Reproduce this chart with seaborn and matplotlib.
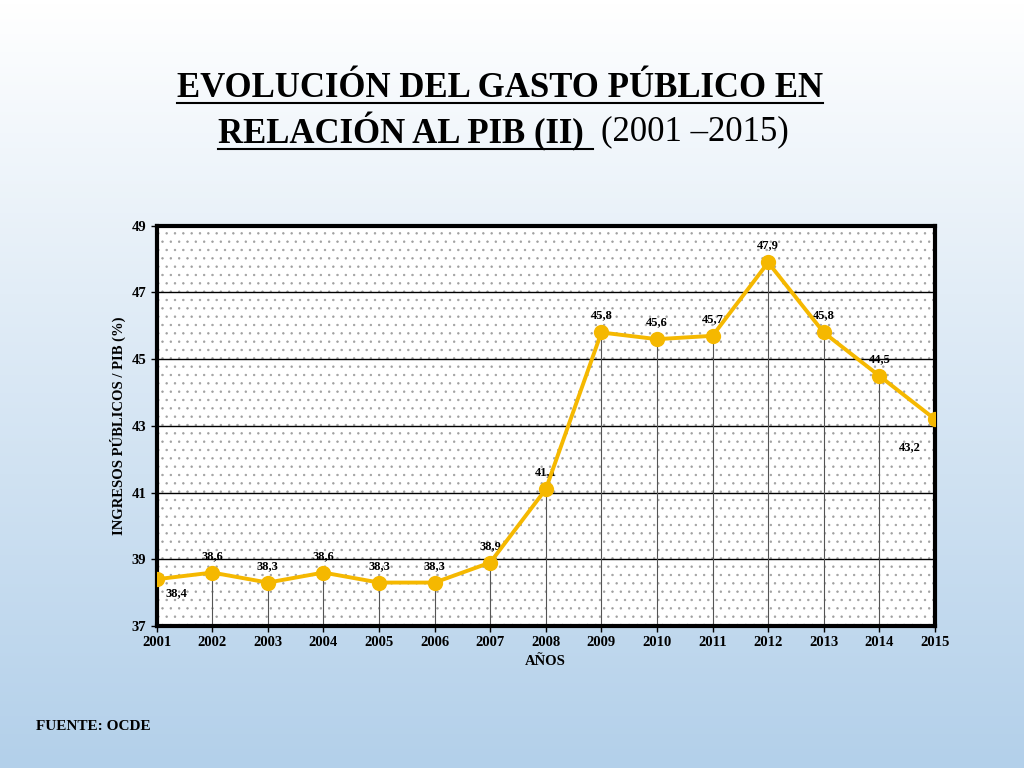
import numpy as np
import pandas as pd
import matplotlib
matplotlib.use("Agg")
import matplotlib.pyplot as plt
import seaborn as sns
from matplotlib.lines import Line2D

years = [2001, 2002, 2003, 2004, 2005, 2006, 2007, 2008, 2009, 2010, 2011, 2012, 2013, 2014, 2015]
gasto = [38.4, 38.6, 38.3, 38.6, 38.3, 38.3, 38.9, 41.1, 45.8, 45.6, 45.7, 47.9, 45.8, 44.5, 43.2]
labels = ["38,4", "38,6", "38,3", "38,6", "38,3", "38,3", "38,9", "41,1", "45,8", "45,6", "45,7", "47,9", "45,8", "44,5", "43,2"]
df = pd.DataFrame({"year": years, "gasto": gasto})

plt.rcParams["font.family"] = "Liberation Serif"
plt.rcParams["font.weight"] = "bold"
plt.rcParams["hatch.color"] = "#9a9a9a"
plt.rcParams["hatch.linewidth"] = 0.5

fig = plt.figure(figsize=(10.24, 7.68), dpi=100)

# background gradient
bg = fig.add_axes([0, 0, 1, 1], zorder=-10)
grad = np.linspace(0, 1, 256).reshape(-1, 1)
cmap = matplotlib.colors.LinearSegmentedColormap.from_list("bg", ["#ffffff", "#b3d0ea"])
bg.imshow(grad, aspect="auto", cmap=cmap, extent=[0, 1, 0, 1], origin="upper")
bg.axis("off")

ax = fig.add_axes([0.153, 0.185, 0.76, 0.521])
ax.set_facecolor("white")
ax.add_patch(plt.Rectangle((0, 0), 1, 1, transform=ax.transAxes, facecolor="white",
                           hatch="..", edgecolor="#a0a0a0", linewidth=0, zorder=0))

ax.vlines(df["year"], 37, df["gasto"], color="#555555", linewidth=0.8, zorder=2)
sns.lineplot(data=df, x="year", y="gasto", ax=ax, color="#f5b800", linewidth=2.8,
             marker="o", markersize=11, markeredgewidth=0, zorder=4)

for i, (x, y, t) in enumerate(zip(years, gasto, labels)):
    if i == 0:
        ax.annotate(t, (x, y), xytext=(14, -12), textcoords="offset points", ha="center", fontsize=9)
    elif i == len(years) - 1:
        ax.annotate(t, (x, y), xytext=(-18, -22), textcoords="offset points", ha="center", fontsize=9)
    else:
        ax.annotate(t, (x, y), xytext=(0, 10), textcoords="offset points", ha="center", fontsize=9)

ax.set_xlim(2001, 2015)
ax.set_ylim(37, 49)
ax.set_xticks(years)
ax.set_yticks(range(37, 50, 2))
ax.grid(axis="y", color="black", linewidth=1)
ax.set_axisbelow(True)
for s in ax.spines.values():
    s.set_linewidth(3)
ax.tick_params(labelsize=10.5, width=1, length=4)
ax.set_xlabel("AÑOS", fontsize=10.5, fontweight="bold")
ax.set_ylabel("INGRESOS PÚBLICOS / PIB (%)", fontsize=10.5, fontweight="bold")

t1 = fig.text(0.488, 0.885, "EVOLUCIÓN DEL GASTO PÚBLICO EN", ha="center", va="center", fontsize=25)
t2 = fig.text(0.213, 0.829, "RELACIÓN AL PIB (II) ", ha="left", va="center", fontsize=25)
fig.canvas.draw()
r = fig.canvas.get_renderer()
b2 = t2.get_window_extent(r).transformed(fig.transFigure.inverted())
fig.text(b2.x1 + 0.008, 0.829, "(2001 –2015)", ha="left", va="center", fontsize=25, fontweight="normal")
for t in (t1, t2):
    b = t.get_window_extent(r).transformed(fig.transFigure.inverted())
    fig.add_artist(Line2D([b.x0, b.x1], [b.y0 + 0.002, b.y0 + 0.002], color="black", linewidth=1.5))

fig.text(0.035, 0.05, "FUENTE: OCDE", fontsize=11)

fig.savefig("out.png", dpi=100)
